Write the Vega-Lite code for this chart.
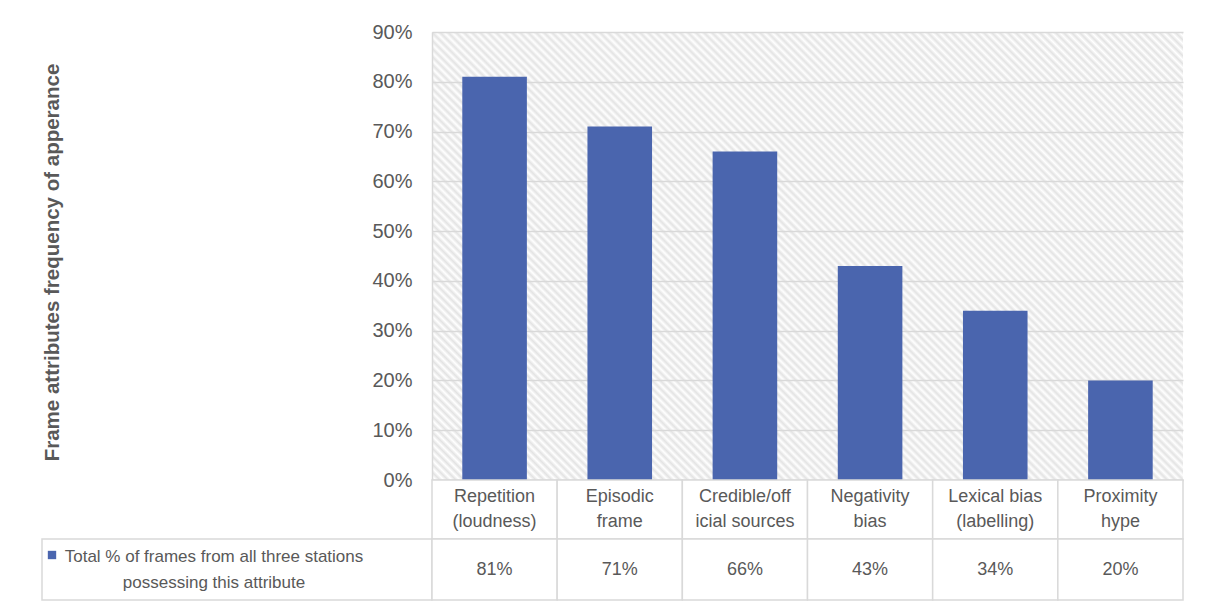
{
  "$schema": "https://vega.github.io/schema/vega-lite/v6.json",
  "padding": {"left": 41, "top": 22, "right": 5, "bottom": 5},
  "background": "white",
  "datasets": {
    "frames": [
      {"attribute": "Repetition (loudness)", "label": "Repetition\n(loudness)", "share": 0.81},
      {"attribute": "Episodic frame", "label": "Episodic\nframe", "share": 0.71},
      {"attribute": "Credible/official sources", "label": "Credible/off\nicial sources", "share": 0.66},
      {"attribute": "Negativity bias", "label": "Negativity\nbias", "share": 0.43},
      {"attribute": "Lexical bias (labelling)", "label": "Lexical bias\n(labelling)", "share": 0.34},
      {"attribute": "Proximity hype", "label": "Proximity\nhype", "share": 0.2}
    ],
    "series": [
      {"series": "Total % of frames from all three stations\npossessing this attribute"}
    ]
  },
  "columns": 2,
  "spacing": 0,
  "bounds": "flush",
  "config": {
    "view": {"stroke": null},
    "font": "Liberation Sans",
    "text": {"color": "#595959"}
  },
  "concat": [
    {
      "width": 390,
      "height": 448,
      "data": {"values": []},
      "mark": "text",
      "encoding": {}
    },
    {
      "width": 751,
      "height": 448,
      "data": {"name": "frames"},
      "view": {
        "fill": {
          "gradient": "linear",
          "x1": 0, "y1": 1, "x2": 1.1775, "y2": 0.2976,
          "stops": [
            {"offset":0,"color":"#e3e3e3"},{"offset":0.0033,"color":"#ffffff"},{"offset":0.0067,"color":"#e3e3e3"},
            {"offset":0.01,"color":"#ffffff"},{"offset":0.0133,"color":"#e3e3e3"},{"offset":0.0167,"color":"#ffffff"},
            {"offset":0.02,"color":"#e3e3e3"},{"offset":0.0233,"color":"#ffffff"},{"offset":0.0267,"color":"#e3e3e3"},
            {"offset":0.03,"color":"#ffffff"},{"offset":0.0333,"color":"#e3e3e3"},{"offset":0.0367,"color":"#ffffff"},
            {"offset":0.04,"color":"#e3e3e3"},{"offset":0.0433,"color":"#ffffff"},{"offset":0.0467,"color":"#e3e3e3"},
            {"offset":0.05,"color":"#ffffff"},{"offset":0.0533,"color":"#e3e3e3"},{"offset":0.0567,"color":"#ffffff"},
            {"offset":0.06,"color":"#e3e3e3"},{"offset":0.0633,"color":"#ffffff"},{"offset":0.0667,"color":"#e3e3e3"},
            {"offset":0.07,"color":"#ffffff"},{"offset":0.0733,"color":"#e3e3e3"},{"offset":0.0767,"color":"#ffffff"},
            {"offset":0.08,"color":"#e3e3e3"},{"offset":0.0833,"color":"#ffffff"},{"offset":0.0867,"color":"#e3e3e3"},
            {"offset":0.09,"color":"#ffffff"},{"offset":0.0933,"color":"#e3e3e3"},{"offset":0.0967,"color":"#ffffff"},
            {"offset":0.10,"color":"#e3e3e3"},{"offset":0.1033,"color":"#ffffff"},{"offset":0.1067,"color":"#e3e3e3"},
            {"offset":0.11,"color":"#ffffff"},{"offset":0.1133,"color":"#e3e3e3"},{"offset":0.1167,"color":"#ffffff"},
            {"offset":0.12,"color":"#e3e3e3"},{"offset":0.1233,"color":"#ffffff"},{"offset":0.1267,"color":"#e3e3e3"},
            {"offset":0.13,"color":"#ffffff"},{"offset":0.1333,"color":"#e3e3e3"},{"offset":0.1367,"color":"#ffffff"},
            {"offset":0.14,"color":"#e3e3e3"},{"offset":0.1433,"color":"#ffffff"},{"offset":0.1467,"color":"#e3e3e3"},
            {"offset":0.15,"color":"#ffffff"},{"offset":0.1533,"color":"#e3e3e3"},{"offset":0.1567,"color":"#ffffff"},
            {"offset":0.16,"color":"#e3e3e3"},{"offset":0.1633,"color":"#ffffff"},{"offset":0.1667,"color":"#e3e3e3"},
            {"offset":0.17,"color":"#ffffff"},{"offset":0.1733,"color":"#e3e3e3"},{"offset":0.1767,"color":"#ffffff"},
            {"offset":0.18,"color":"#e3e3e3"},{"offset":0.1833,"color":"#ffffff"},{"offset":0.1867,"color":"#e3e3e3"},
            {"offset":0.19,"color":"#ffffff"},{"offset":0.1933,"color":"#e3e3e3"},{"offset":0.1967,"color":"#ffffff"},
            {"offset":0.20,"color":"#e3e3e3"},{"offset":0.2033,"color":"#ffffff"},{"offset":0.2067,"color":"#e3e3e3"},
            {"offset":0.21,"color":"#ffffff"},{"offset":0.2133,"color":"#e3e3e3"},{"offset":0.2167,"color":"#ffffff"},
            {"offset":0.22,"color":"#e3e3e3"},{"offset":0.2233,"color":"#ffffff"},{"offset":0.2267,"color":"#e3e3e3"},
            {"offset":0.23,"color":"#ffffff"},{"offset":0.2333,"color":"#e3e3e3"},{"offset":0.2367,"color":"#ffffff"},
            {"offset":0.24,"color":"#e3e3e3"},{"offset":0.2433,"color":"#ffffff"},{"offset":0.2467,"color":"#e3e3e3"},
            {"offset":0.25,"color":"#ffffff"},{"offset":0.2533,"color":"#e3e3e3"},{"offset":0.2567,"color":"#ffffff"},
            {"offset":0.26,"color":"#e3e3e3"},{"offset":0.2633,"color":"#ffffff"},{"offset":0.2667,"color":"#e3e3e3"},
            {"offset":0.27,"color":"#ffffff"},{"offset":0.2733,"color":"#e3e3e3"},{"offset":0.2767,"color":"#ffffff"},
            {"offset":0.28,"color":"#e3e3e3"},{"offset":0.2833,"color":"#ffffff"},{"offset":0.2867,"color":"#e3e3e3"},
            {"offset":0.29,"color":"#ffffff"},{"offset":0.2933,"color":"#e3e3e3"},{"offset":0.2967,"color":"#ffffff"},
            {"offset":0.30,"color":"#e3e3e3"},{"offset":0.3033,"color":"#ffffff"},{"offset":0.3067,"color":"#e3e3e3"},
            {"offset":0.31,"color":"#ffffff"},{"offset":0.3133,"color":"#e3e3e3"},{"offset":0.3167,"color":"#ffffff"},
            {"offset":0.32,"color":"#e3e3e3"},{"offset":0.3233,"color":"#ffffff"},{"offset":0.3267,"color":"#e3e3e3"},
            {"offset":0.33,"color":"#ffffff"},{"offset":0.3333,"color":"#e3e3e3"},{"offset":0.3367,"color":"#ffffff"},
            {"offset":0.34,"color":"#e3e3e3"},{"offset":0.3433,"color":"#ffffff"},{"offset":0.3467,"color":"#e3e3e3"},
            {"offset":0.35,"color":"#ffffff"},{"offset":0.3533,"color":"#e3e3e3"},{"offset":0.3567,"color":"#ffffff"},
            {"offset":0.36,"color":"#e3e3e3"},{"offset":0.3633,"color":"#ffffff"},{"offset":0.3667,"color":"#e3e3e3"},
            {"offset":0.37,"color":"#ffffff"},{"offset":0.3733,"color":"#e3e3e3"},{"offset":0.3767,"color":"#ffffff"},
            {"offset":0.38,"color":"#e3e3e3"},{"offset":0.3833,"color":"#ffffff"},{"offset":0.3867,"color":"#e3e3e3"},
            {"offset":0.39,"color":"#ffffff"},{"offset":0.3933,"color":"#e3e3e3"},{"offset":0.3967,"color":"#ffffff"},
            {"offset":0.40,"color":"#e3e3e3"},{"offset":0.4033,"color":"#ffffff"},{"offset":0.4067,"color":"#e3e3e3"},
            {"offset":0.41,"color":"#ffffff"},{"offset":0.4133,"color":"#e3e3e3"},{"offset":0.4167,"color":"#ffffff"},
            {"offset":0.42,"color":"#e3e3e3"},{"offset":0.4233,"color":"#ffffff"},{"offset":0.4267,"color":"#e3e3e3"},
            {"offset":0.43,"color":"#ffffff"},{"offset":0.4333,"color":"#e3e3e3"},{"offset":0.4367,"color":"#ffffff"},
            {"offset":0.44,"color":"#e3e3e3"},{"offset":0.4433,"color":"#ffffff"},{"offset":0.4467,"color":"#e3e3e3"},
            {"offset":0.45,"color":"#ffffff"},{"offset":0.4533,"color":"#e3e3e3"},{"offset":0.4567,"color":"#ffffff"},
            {"offset":0.46,"color":"#e3e3e3"},{"offset":0.4633,"color":"#ffffff"},{"offset":0.4667,"color":"#e3e3e3"},
            {"offset":0.47,"color":"#ffffff"},{"offset":0.4733,"color":"#e3e3e3"},{"offset":0.4767,"color":"#ffffff"},
            {"offset":0.48,"color":"#e3e3e3"},{"offset":0.4833,"color":"#ffffff"},{"offset":0.4867,"color":"#e3e3e3"},
            {"offset":0.49,"color":"#ffffff"},{"offset":0.4933,"color":"#e3e3e3"},{"offset":0.4967,"color":"#ffffff"},
            {"offset":0.50,"color":"#e3e3e3"},{"offset":0.5033,"color":"#ffffff"},{"offset":0.5067,"color":"#e3e3e3"},
            {"offset":0.51,"color":"#ffffff"},{"offset":0.5133,"color":"#e3e3e3"},{"offset":0.5167,"color":"#ffffff"},
            {"offset":0.52,"color":"#e3e3e3"},{"offset":0.5233,"color":"#ffffff"},{"offset":0.5267,"color":"#e3e3e3"},
            {"offset":0.53,"color":"#ffffff"},{"offset":0.5333,"color":"#e3e3e3"},{"offset":0.5367,"color":"#ffffff"},
            {"offset":0.54,"color":"#e3e3e3"},{"offset":0.5433,"color":"#ffffff"},{"offset":0.5467,"color":"#e3e3e3"},
            {"offset":0.55,"color":"#ffffff"},{"offset":0.5533,"color":"#e3e3e3"},{"offset":0.5567,"color":"#ffffff"},
            {"offset":0.56,"color":"#e3e3e3"},{"offset":0.5633,"color":"#ffffff"},{"offset":0.5667,"color":"#e3e3e3"},
            {"offset":0.57,"color":"#ffffff"},{"offset":0.5733,"color":"#e3e3e3"},{"offset":0.5767,"color":"#ffffff"},
            {"offset":0.58,"color":"#e3e3e3"},{"offset":0.5833,"color":"#ffffff"},{"offset":0.5867,"color":"#e3e3e3"},
            {"offset":0.59,"color":"#ffffff"},{"offset":0.5933,"color":"#e3e3e3"},{"offset":0.5967,"color":"#ffffff"},
            {"offset":0.60,"color":"#e3e3e3"},{"offset":0.6033,"color":"#ffffff"},{"offset":0.6067,"color":"#e3e3e3"},
            {"offset":0.61,"color":"#ffffff"},{"offset":0.6133,"color":"#e3e3e3"},{"offset":0.6167,"color":"#ffffff"},
            {"offset":0.62,"color":"#e3e3e3"},{"offset":0.6233,"color":"#ffffff"},{"offset":0.6267,"color":"#e3e3e3"},
            {"offset":0.63,"color":"#ffffff"},{"offset":0.6333,"color":"#e3e3e3"},{"offset":0.6367,"color":"#ffffff"},
            {"offset":0.64,"color":"#e3e3e3"},{"offset":0.6433,"color":"#ffffff"},{"offset":0.6467,"color":"#e3e3e3"},
            {"offset":0.65,"color":"#ffffff"},{"offset":0.6533,"color":"#e3e3e3"},{"offset":0.6567,"color":"#ffffff"},
            {"offset":0.66,"color":"#e3e3e3"},{"offset":0.6633,"color":"#ffffff"},{"offset":0.6667,"color":"#e3e3e3"},
            {"offset":0.67,"color":"#ffffff"},{"offset":0.6733,"color":"#e3e3e3"},{"offset":0.6767,"color":"#ffffff"},
            {"offset":0.68,"color":"#e3e3e3"},{"offset":0.6833,"color":"#ffffff"},{"offset":0.6867,"color":"#e3e3e3"},
            {"offset":0.69,"color":"#ffffff"},{"offset":0.6933,"color":"#e3e3e3"},{"offset":0.6967,"color":"#ffffff"},
            {"offset":0.70,"color":"#e3e3e3"},{"offset":0.7033,"color":"#ffffff"},{"offset":0.7067,"color":"#e3e3e3"},
            {"offset":0.71,"color":"#ffffff"},{"offset":0.7133,"color":"#e3e3e3"},{"offset":0.7167,"color":"#ffffff"},
            {"offset":0.72,"color":"#e3e3e3"},{"offset":0.7233,"color":"#ffffff"},{"offset":0.7267,"color":"#e3e3e3"},
            {"offset":0.73,"color":"#ffffff"},{"offset":0.7333,"color":"#e3e3e3"},{"offset":0.7367,"color":"#ffffff"},
            {"offset":0.74,"color":"#e3e3e3"},{"offset":0.7433,"color":"#ffffff"},{"offset":0.7467,"color":"#e3e3e3"},
            {"offset":0.75,"color":"#ffffff"},{"offset":0.7533,"color":"#e3e3e3"},{"offset":0.7567,"color":"#ffffff"},
            {"offset":0.76,"color":"#e3e3e3"},{"offset":0.7633,"color":"#ffffff"},{"offset":0.7667,"color":"#e3e3e3"},
            {"offset":0.77,"color":"#ffffff"},{"offset":0.7733,"color":"#e3e3e3"},{"offset":0.7767,"color":"#ffffff"},
            {"offset":0.78,"color":"#e3e3e3"},{"offset":0.7833,"color":"#ffffff"},{"offset":0.7867,"color":"#e3e3e3"},
            {"offset":0.79,"color":"#ffffff"},{"offset":0.7933,"color":"#e3e3e3"},{"offset":0.7967,"color":"#ffffff"},
            {"offset":0.80,"color":"#e3e3e3"},{"offset":0.8033,"color":"#ffffff"},{"offset":0.8067,"color":"#e3e3e3"},
            {"offset":0.81,"color":"#ffffff"},{"offset":0.8133,"color":"#e3e3e3"},{"offset":0.8167,"color":"#ffffff"},
            {"offset":0.82,"color":"#e3e3e3"},{"offset":0.8233,"color":"#ffffff"},{"offset":0.8267,"color":"#e3e3e3"},
            {"offset":0.83,"color":"#ffffff"},{"offset":0.8333,"color":"#e3e3e3"},{"offset":0.8367,"color":"#ffffff"},
            {"offset":0.84,"color":"#e3e3e3"},{"offset":0.8433,"color":"#ffffff"},{"offset":0.8467,"color":"#e3e3e3"},
            {"offset":0.85,"color":"#ffffff"},{"offset":0.8533,"color":"#e3e3e3"},{"offset":0.8567,"color":"#ffffff"},
            {"offset":0.86,"color":"#e3e3e3"},{"offset":0.8633,"color":"#ffffff"},{"offset":0.8667,"color":"#e3e3e3"},
            {"offset":0.87,"color":"#ffffff"},{"offset":0.8733,"color":"#e3e3e3"},{"offset":0.8767,"color":"#ffffff"},
            {"offset":0.88,"color":"#e3e3e3"},{"offset":0.8833,"color":"#ffffff"},{"offset":0.8867,"color":"#e3e3e3"},
            {"offset":0.89,"color":"#ffffff"},{"offset":0.8933,"color":"#e3e3e3"},{"offset":0.8967,"color":"#ffffff"},
            {"offset":0.90,"color":"#e3e3e3"},{"offset":0.9033,"color":"#ffffff"},{"offset":0.9067,"color":"#e3e3e3"},
            {"offset":0.91,"color":"#ffffff"},{"offset":0.9133,"color":"#e3e3e3"},{"offset":0.9167,"color":"#ffffff"},
            {"offset":0.92,"color":"#e3e3e3"},{"offset":0.9233,"color":"#ffffff"},{"offset":0.9267,"color":"#e3e3e3"},
            {"offset":0.93,"color":"#ffffff"},{"offset":0.9333,"color":"#e3e3e3"},{"offset":0.9367,"color":"#ffffff"},
            {"offset":0.94,"color":"#e3e3e3"},{"offset":0.9433,"color":"#ffffff"},{"offset":0.9467,"color":"#e3e3e3"},
            {"offset":0.95,"color":"#ffffff"},{"offset":0.9533,"color":"#e3e3e3"},{"offset":0.9567,"color":"#ffffff"},
            {"offset":0.96,"color":"#e3e3e3"},{"offset":0.9633,"color":"#ffffff"},{"offset":0.9667,"color":"#e3e3e3"},
            {"offset":0.97,"color":"#ffffff"},{"offset":0.9733,"color":"#e3e3e3"},{"offset":0.9767,"color":"#ffffff"},
            {"offset":0.98,"color":"#e3e3e3"},{"offset":0.9833,"color":"#ffffff"},{"offset":0.9867,"color":"#e3e3e3"},
            {"offset":0.99,"color":"#ffffff"},{"offset":0.9933,"color":"#e3e3e3"},{"offset":0.9967,"color":"#ffffff"},
            {"offset":1,"color":"#e3e3e3"}
          ]
        }
      },
      "mark": {"type": "bar", "color": "#4a65ae"},
      "encoding": {
        "x": {
          "field": "attribute",
          "type": "nominal",
          "sort": null,
          "scale": {"paddingInner": 0.484, "paddingOuter": 0.242},
          "axis": {"labels": false, "ticks": false, "title": null, "domainColor": "#d9d9d9", "domainWidth": 1.5}
        },
        "y": {
          "field": "share",
          "type": "quantitative",
          "scale": {"domain": [0, 0.9], "nice": false},
          "axis": {
            "values": [0, 0.1, 0.2, 0.3, 0.4, 0.5, 0.6, 0.7, 0.8, 0.9],
            "format": ".0%",
            "grid": true,
            "gridColor": "#d9d9d9",
            "gridWidth": 1.5,
            "ticks": false,
            "domainColor": "#d9d9d9",
            "domainWidth": 1.5,
            "labelPadding": 20,
            "labelFontSize": 20,
            "labelColor": "#595959",
            "title": "Frame attributes frequency of apperance",
            "titleFontSize": 20.5,
            "titleFontWeight": "bold",
            "titleColor": "#595959",
            "titlePadding": 309,
            "titleY": 230
          }
        }
      }
    },
    {
      "width": 390,
      "height": 59,
      "data": {"values": []},
      "mark": "text",
      "encoding": {}
    },
    {
      "width": 751,
      "height": 59,
      "data": {"name": "frames"},
      "encoding": {
        "x": {"field": "attribute", "type": "nominal", "sort": null, "scale": {"paddingInner": 0, "paddingOuter": 0}, "axis": null}
      },
      "layer": [
        {"mark": {"type": "rect", "fill": "white", "stroke": "#d9d9d9", "strokeWidth": 1.5}},
        {"mark": {"type": "text", "fontSize": 18, "lineBreak": "\n", "lineHeight": 25, "baseline": "middle", "dy": -12.5}, "encoding": {"text": {"field": "label"}}}
      ]
    },
    {
      "width": 390,
      "height": 61,
      "data": {"name": "series"},
      "layer": [
        {"mark": {"type": "rect", "fill": "white", "stroke": "#d9d9d9", "strokeWidth": 1.5}, "encoding": {}},
        {"mark": {"type": "square", "color": "#4a65ae", "opacity": 1, "size": 70, "x": 10, "y": 16}, "encoding": {}},
        {"mark": {"type": "text", "fontSize": 17, "lineBreak": "\n", "lineHeight": 26, "baseline": "middle", "dy": -13, "x": 172}, "encoding": {"text": {"field": "series"}}}
      ]
    },
    {
      "width": 751,
      "height": 61,
      "data": {"name": "frames"},
      "encoding": {
        "x": {"field": "attribute", "type": "nominal", "sort": null, "scale": {"paddingInner": 0, "paddingOuter": 0}, "axis": null}
      },
      "layer": [
        {"mark": {"type": "rect", "fill": "white", "stroke": "#d9d9d9", "strokeWidth": 1.5}},
        {"mark": {"type": "text", "fontSize": 18, "baseline": "middle"}, "encoding": {"text": {"field": "share", "type": "quantitative", "format": ".0%"}}}
      ]
    }
  ]
}
